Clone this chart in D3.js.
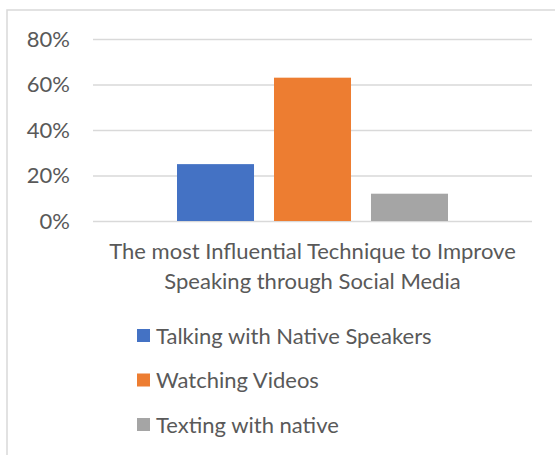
<!DOCTYPE html>
<html>
<head>
<meta charset="utf-8">
<script src="https://cdn.jsdelivr.net/npm/d3@7"></script>
<style>
  body { margin: 0; background: #fff; }
  text { font-family: Lato, "Open Sans", sans-serif; fill: #595959; }
</style>
</head>
<body>
<div id="chart"></div>
<script>
// data
var category = ["The most Influential Technique to Improve Speaking through Social Media"]
var categoryLines = ["The most Influential Technique to Improve", "Speaking through Social Media"]
var series = ["Talking with Native Speakers", "Watching Videos", "Texting with native"]
var values = [0.25, 0.63, 0.12]
var yTicks = [0, 0.2, 0.4, 0.6, 0.8]
var colors = ["#4472C4", "#ED7D31", "#A5A5A5"]

var width = 555,
    height = 455,
    margin = {top: 39, right: 23, bottom: 234, left: 93}

var svg = d3.select("#chart")
  .append("svg")
    .attr("width", width)
    .attr("height", height)

// chart frame (runs off the right and bottom of the picture)
svg.append("rect")
  .attr("x", 7)
  .attr("y", 10)
  .attr("width", 560)
  .attr("height", 460)
  .attr("fill", "none")
  .attr("stroke", "#d9d9d9")
  .attr("stroke-width", 1.5)

var g = svg.append("g")
  .attr("transform", "translate(" + margin.left + "," + margin.top + ")")

var innerW = width - margin.left - margin.right,
    innerH = height - margin.top - margin.bottom

var y = d3.scaleLinear()
  .domain([0, 0.8])
  .range([innerH, 0])

var x0 = d3.scaleBand()
  .domain(category)
  .range([0, innerW])
  .paddingInner(0)
  .paddingOuter(0.31)

var x1 = d3.scaleBand()
  .domain(series)
  .range([0, x0.bandwidth()])
  .paddingInner(0.206)
  .paddingOuter(0)

var color = d3.scaleOrdinal()
  .domain(series)
  .range(colors)

// gridlines
var yAxis = g.append("g")
  .call(d3.axisLeft(y)
    .tickValues(yTicks)
    .tickSize(-innerW)
    .tickPadding(23)
    .tickFormat(d3.format(".0%")))
yAxis.select(".domain").remove()
yAxis.selectAll(".tick line")
  .attr("stroke", "#d9d9d9")
  .attr("stroke-width", 1.5)
yAxis.selectAll(".tick text")
  .style("font-size", "22px")
  .attr("fill", "#595959")

// bars
g.selectAll(".bar")
  .data(series)
  .enter()
  .append("rect")
    .attr("class", "bar")
    .attr("x", function(d) { return x0(category[0]) + x1(d) })
    .attr("y", function(d, i) { return y(values[i]) })
    .attr("width", x1.bandwidth())
    .attr("height", function(d, i) { return innerH - y(values[i]) })
    .attr("fill", function(d) { return color(d) })

// category label, two lines
var cx = x0(category[0]) + x0.bandwidth() / 2
g.append("text")
  .attr("x", cx)
  .attr("y", innerH + 38)
  .attr("text-anchor", "middle")
  .style("font-size", "22px")
  .selectAll("tspan")
  .data(categoryLines)
  .enter()
  .append("tspan")
    .attr("x", cx)
    .attr("dy", function(d, i) { return i == 0 ? 0 : 30 })
    .text(function(d) { return d })

// legend
var legend = svg.selectAll(".legend")
  .data(series)
  .enter()
  .append("g")
    .attr("class", "legend")
    .attr("transform", function(d, i) { return "translate(137," + (329 + i * 44.5) + ")" })

legend.append("rect")
  .attr("width", 13)
  .attr("height", 13)
  .attr("fill", function(d) { return color(d) })

legend.append("text")
  .attr("x", 19)
  .attr("y", 14.5)
  .style("font-size", "22px")
  .text(function(d) { return d })
</script>
</body>
</html>
